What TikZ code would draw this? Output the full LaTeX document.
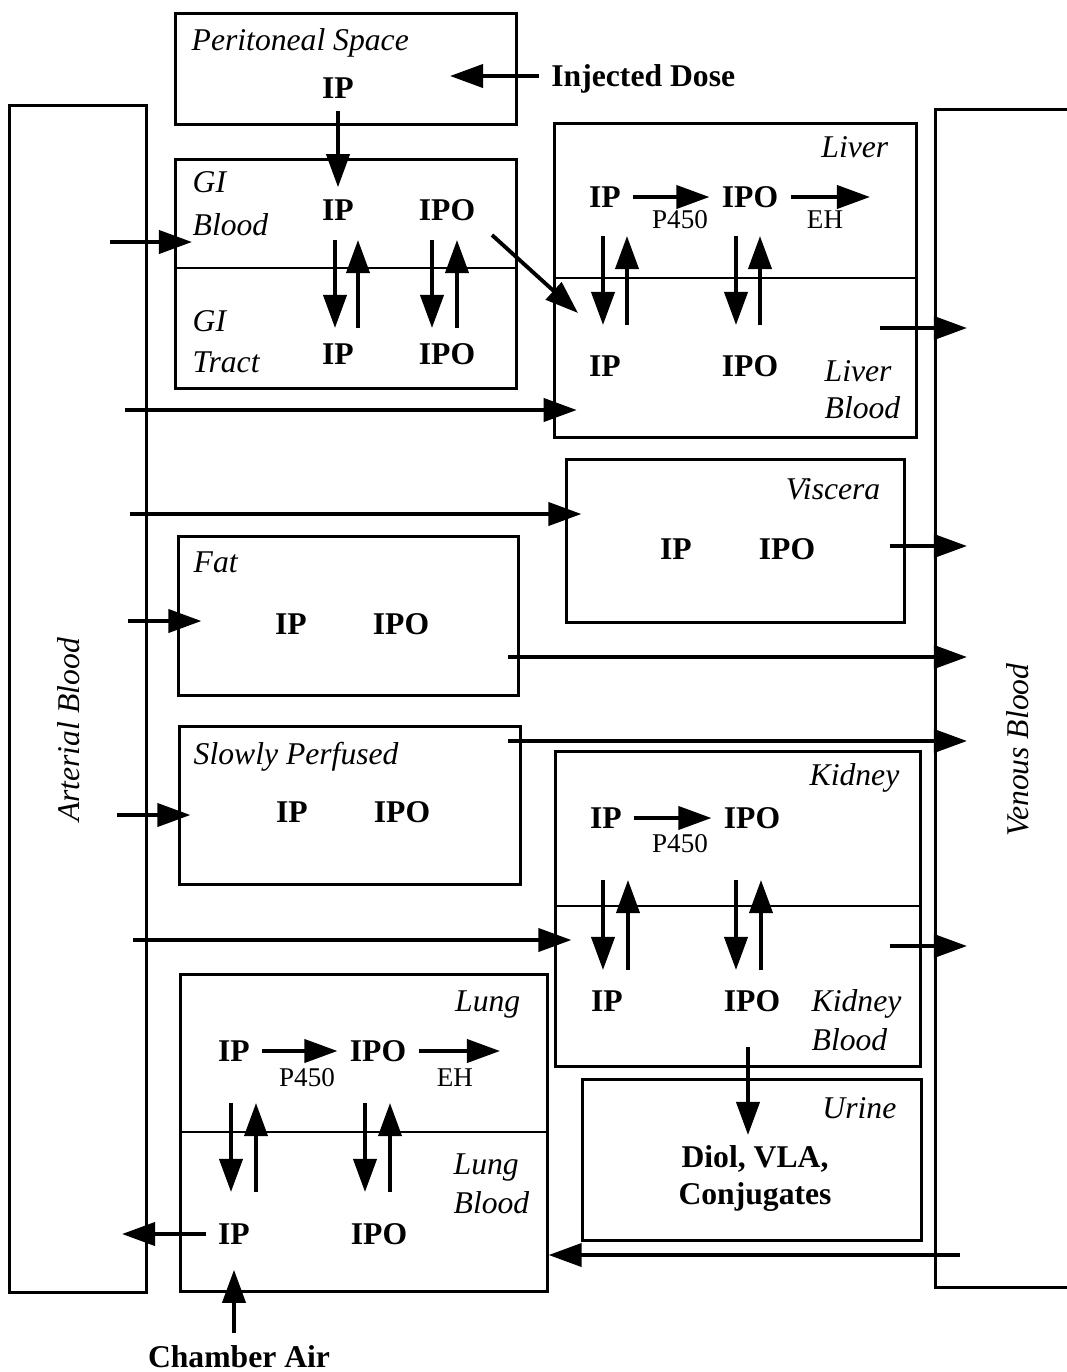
\documentclass[tikz,border=0pt]{standalone}
\usepackage{fontspec}
\setmainfont{Liberation Serif}
\usetikzlibrary{arrows.meta, positioning, calc}

\begin{document}
\begin{tikzpicture}[
    x=0.01cm, y=-0.01cm,
    box/.style={draw, line width=0.85pt, inner sep=0pt},
    divline/.style={line width=0.75pt},
    sp/.style={font=\bfseries\fontsize{9}{11}\selectfont},
    lbl/.style={font=\itshape\fontsize{9}{11}\selectfont, inner sep=0pt, align=left},
    enz/.style={font=\fontsize{7.7}{9}\selectfont, inner sep=0pt},
    arrow/.style={-{Triangle[length=0.33cm, width=0.23cm]}, line width=1.1pt}
]
\useasboundingbox (0,0) rectangle (1067,1372);

% blood pools
\node[box, minimum width=1.36cm, minimum height=11.86cm] (art) at (78,699) {};
\node[box, minimum width=1.54cm, minimum height=11.77cm] (ven) at (1013,698.5) {};
\node[lbl, rotate=90] (artl) at (69,730) {Arterial Blood};
\node[lbl, rotate=90] (venl) at (1018,750) {Venous Blood};
\coordinate (vx) at (967,0);

% peritoneal space
\node[box, minimum width=3.40cm, minimum height=1.10cm] (ps) at (346,69) {};
\node[lbl, anchor=base west] (psl) at (191,50) {Peritoneal Space};
\node[sp] (ps1) at (338,88) {IP};
\node[sp, anchor=base west] (dose) at (539,86) {Injected Dose};
\coordinate (dosetip) at (450,76);
\draw[arrow] (dose.west |- dosetip) -- (dosetip);

% GI
\node[box, minimum width=3.40cm, minimum height=2.28cm] (gi) at (346,274) {};
\draw[divline] ($(gi.west)+(0,-6)$) -- ($(gi.east)+(0,-6)$);
\node[lbl, anchor=base west, font=\itshape\fontsize{9}{12}\selectfont] (gibl) at (192,235) {GI\\Blood};
\node[lbl, anchor=base west, font=\itshape\fontsize{9}{11.5}\selectfont] (gitr) at (192,372) {GI\\Tract};
\node[sp] (gi1) at (338,210) {IP};
\node[sp] (gi2) at (447,210) {IPO};
\node[sp] (gi3) at (338,354) {IP};
\node[sp] (gi4) at (447,354) {IPO};
\draw[arrow] (ps1) -- (gi1);
\draw[arrow] ($(gi1)+(-3,30)$) -- ($(gi3)+(-3,-26)$);
\draw[arrow] ($(gi3)+(20,-26)$) -- ($(gi1)+(20,30)$);
\draw[arrow] ($(gi2)+(-15,30)$) -- ($(gi4)+(-15,-26)$);
\draw[arrow] ($(gi4)+(10,-26)$) -- ($(gi2)+(10,30)$);

% liver
\node[box, minimum width=3.61cm, minimum height=3.13cm] (liv) at (735.5,280.5) {};
\draw[divline] ($(liv.west)+(0,-2.5)$) -- ($(liv.east)+(0,-2.5)$);
\node[lbl, anchor=base east] (livl) at (889,157) {Liver};
\node[lbl, anchor=base west, font=\itshape\fontsize{9}{10.5}\selectfont] (livb) at (824,418) {Liver\\Blood};
\node[sp] (l1) at (605,197) {IP};
\node[sp] (l2) at (750,197) {IPO};
\node[sp] (l3) at (605,366) {IP};
\node[sp] (l4) at (750,366) {IPO};
\node[enz] (lp450) at (680,220) {P450};
\node[enz] (leh) at (825,220) {EH};
\coordinate (lehtip) at (870,197);
\draw[arrow] (l1) -- (l2);
\draw[arrow] (l2.east) -- (lehtip);
\draw[arrow] ($(l1)+(-2,39)$) -- ($(l3)+(-2,-41)$);
\draw[arrow] ($(l3)+(22,-41)$) -- ($(l1)+(22,39)$);
\draw[arrow] ($(l2)+(-14,39)$) -- ($(l4)+(-14,-41)$);
\draw[arrow] ($(l4)+(10,-41)$) -- ($(l2)+(10,39)$);
\draw[arrow] ($(gi2)+(45,25)$) -- ($(l3)+(-27,-53)$);

% viscera
\node[box, minimum width=3.37cm, minimum height=1.62cm] (vis) at (735.5,541) {};
\node[lbl, anchor=base east] (visl) at (881,499) {Viscera};
\node[sp] (v1) at (676,549) {IP};
\node[sp] (v2) at (787,549) {IPO};

% fat
\node[box, minimum width=3.39cm, minimum height=1.58cm] (fat) at (348.5,616) {};
\node[lbl, anchor=base west] (fatl) at (193,572) {Fat};
\node[sp] (f1) at (291,624) {IP};
\node[sp] (f2) at (401,624) {IPO};

% slowly perfused
\node[box, minimum width=3.40cm, minimum height=1.57cm] (slow) at (350,805.5) {};
\node[lbl, anchor=base west] (slowl) at (193,764) {Slowly Perfused};
\node[sp] (s1) at (292,812) {IP};
\node[sp] (s2) at (402,812) {IPO};

% kidney
\node[box, minimum width=3.64cm, minimum height=3.14cm] (kid) at (738,909) {};
\draw[divline] ($(kid.west)+(0,-3)$) -- ($(kid.east)+(0,-3)$);
\node[lbl, anchor=base east] (kidl) at (900,785) {Kidney};
\node[lbl, anchor=base west] (kidb) at (811,1050) {Kidney\\Blood};
\node[sp] (k1) at (606,818) {IP};
\node[sp] (k2) at (752,818) {IPO};
\node[sp] (k3) at (607,1001) {IP};
\node[sp] (k4) at (752,1001) {IPO};
\node[enz] (kp450) at (680,844) {P450};
\draw[arrow] (k1) -- (k2);
\draw[arrow] ($(k1)+(-3,62)$) -- ($(k3)+(-4,-31)$);
\draw[arrow] ($(k3)+(21,-31)$) -- ($(k1)+(22,62)$);
\draw[arrow] ($(k2)+(-16,62)$) -- ($(k4)+(-16,-31)$);
\draw[arrow] ($(k4)+(9,-31)$) -- ($(k2)+(9,62)$);

% urine
\node[box, minimum width=3.38cm, minimum height=1.60cm] (uri) at (752,1160) {};
\node[lbl, anchor=base east] (uril) at (897,1118) {Urine};
\node[sp, align=center, anchor=base, font=\bfseries\fontsize{9}{10.3}\selectfont] (diol) at (755,1204) {Diol, VLA,\\Conjugates};
\draw[arrow] ($(k4)+(-4,46)$) -- ($(k4)+(-4,134)$);

% lung
\node[box, minimum width=3.66cm, minimum height=3.16cm] (lung) at (364,1133) {};
\draw[divline] ($(lung.west)+(0,-1)$) -- ($(lung.east)+(0,-1)$);
\node[lbl, anchor=base east] (lungl) at (521,1011) {Lung};
\node[lbl, anchor=base west] (lungb) at (453,1213) {Lung\\Blood};
\node[sp] (n1) at (234,1051) {IP};
\node[sp] (n2) at (378,1051) {IPO};
\node[sp] (n3) at (234,1234) {IP};
\node[sp] (n4) at (379,1234) {IPO};
\node[enz] (np450) at (307,1078) {P450};
\node[enz] (neh) at (455,1078) {EH};
\coordinate (nehtip) at (500,1051);
\draw[arrow] (n1) -- (n2);
\draw[arrow] (n2.east) -- (nehtip);
\draw[arrow] ($(n1)+(-3,52)$) -- ($(n3)+(-3,-42)$);
\draw[arrow] ($(n3)+(22,-42)$) -- ($(n1)+(22,52)$);
\draw[arrow] ($(n2)+(-13,52)$) -- ($(n4)+(-14,-42)$);
\draw[arrow] ($(n4)+(11,-42)$) -- ($(n2)+(12,52)$);
\node[sp, anchor=base] (air) at (239,1367) {Chamber Air};
\draw[arrow, shorten >=0.13cm] (air.north -| n3) -- (n3);

% blood flows
\coordinate (gin) at (110,242);
\coordinate (lin) at (125,410);
\coordinate (lout) at (880,328);
\coordinate (vin) at (130,514);
\coordinate (vout) at (890,546);
\coordinate (fin) at (128,621);
\coordinate (fout) at (508,657);
\coordinate (sin) at (117,815);
\coordinate (sout) at (508,741);
\coordinate (kin) at (133,940);
\coordinate (kout) at (890,946);
\coordinate (lungin) at (960,1255);
\coordinate (aout) at (122,1234);
\draw[arrow] (gin) -- (gin -| gibl.west);
\draw[arrow] (lin) -- (lin -| l3.west);
\draw[arrow] (lout) -- (lout -| vx);
\draw[arrow] (vin) -- ($(vin -| vis.west)+(16,0)$);
\draw[arrow] (vout) -- (vout -| vx);
\draw[arrow] (fin) -- ($(fin -| fat.west)+(24,0)$);
\draw[arrow] (fout) -- (fout -| vx);
\draw[arrow] (sin) -- ($(sin -| slow.west)+(12,0)$);
\draw[arrow] (sout) -- (sout -| vx);
\draw[arrow] (kin) -- ($(kin -| kid.west)+(17,0)$);
\draw[arrow] (kout) -- (kout -| vx);
\draw[arrow] (lungin) -- (lungin -| lung.east);
\draw[arrow] (n3.west) -- (n3.west -| aout);
\end{tikzpicture}
\end{document}
